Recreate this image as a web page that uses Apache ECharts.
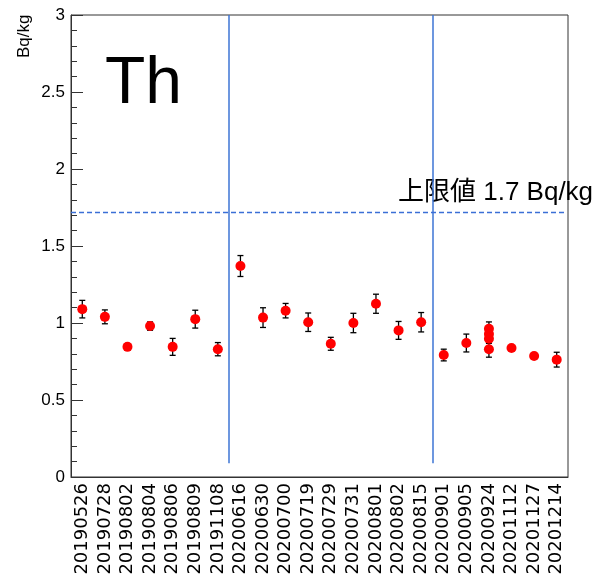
<!DOCTYPE html>
<html>
<head>
<meta charset="utf-8">
<script src="https://cdn.jsdelivr.net/npm/echarts@6/dist/echarts.min.js"></script>
<style>html,body{margin:0;padding:0;background:#fff;}#c{width:595px;height:580px;}</style>
</head>
<body>
<div id="c"></div>
<script>
var categories = ['20190526','20190728','20190802','20190804','20190806','20190809','20191108','20200616','20200630','20200700','20200719','20200729','20200731','20200801','20200802','20200815','20200901','20200905','20200924','20201112','20201127','20201214'];
// each measurement: category index, value (Bq/kg), error
var pointCat = [0,1,2,3,4,5,6,7,8,9,10,11,12,13,14,15,16,17,18,18,18,18,19,20,21];
var pointVal = [1.09,1.04,0.845,0.98,0.845,1.025,0.83,1.37,1.035,1.08,1.005,0.865,1.0,1.125,0.952,1.005,0.792,0.87,0.962,0.928,0.898,0.83,0.838,0.786,0.762];
var pointErr = [0.057,0.045,0.02,0.027,0.055,0.058,0.043,0.068,0.064,0.047,0.06,0.042,0.063,0.062,0.058,0.063,0.038,0.058,0.045,0.03,0.03,0.052,0.012,0.012,0.048];
var limitValue = 1.7175;
var limitLabel = '上限値 1.7 Bq/kg';
var periodBoundaries = [7, 16];

var pts = pointCat.map(function(c, i){ return [c, pointVal[i], pointErr[i]]; });

var chart = echarts.init(document.getElementById('c'), null, {renderer:'canvas'});
var axisColor = '#333';
var option = {
  animation: false,
  backgroundColor: '#fff',
  grid: {left: 71, right: 27, top: 15, bottom: 103, show: true, borderColor: axisColor, borderWidth: 1, backgroundColor: 'transparent'},
  xAxis: [{
    type: 'category', data: categories, boundaryGap: true,
    axisLine: {lineStyle: {color: axisColor, width: 1}},
    axisTick: {inside: true, length: 16, lineStyle: {color: axisColor, width: 1}},
    axisLabel: {rotate: 90, margin: 6, color: '#000', fontFamily: 'DejaVu Sans', fontSize: 18, interval: 0},
    splitLine: {show: false}
  }, {
    type: 'value', min: 0, max: categories.length, show: false, position: 'bottom'
  }],
  yAxis: {
    type: 'value', min: 0, max: 3, interval: 0.5,
    axisLine: {show: true, lineStyle: {color: axisColor, width: 1}},
    axisTick: {inside: true, length: 12, lineStyle: {color: axisColor}},
    minorTick: {show: true, splitNumber: 5, length: 6, lineStyle: {color: axisColor}},
    axisLabel: {margin: 6, color: '#000', fontFamily: 'Liberation Sans', fontSize: 17,
      formatter: function(v){ return String(Math.round(v*10)/10); }},
    splitLine: {show: false}
  },
  series: [{
    type: 'line', xAxisIndex: 1, data: [], silent: true,
    markLine: {
      symbol: 'none', silent: true, label: {show: false},
      lineStyle: {color: '#3d74d4', width: 1.5, type: 'solid'},
      data: periodBoundaries.map(function(b){
        return [{coord: [b, 0.09]}, {coord: [b, 3]}];
      })
    }
  }, {
    type: 'line', xAxisIndex: 1, data: [], silent: true,
    markLine: {
      symbol: 'none', silent: true, label: {show: false},
      lineStyle: {color: '#3b6fd6', width: 1.3, type: [5, 3], opacity: 1},
      data: [[{coord: [0, limitValue]}, {coord: [21.85, limitValue]}]]
    }
  }, {
    type: 'custom', xAxisIndex: 0, data: pts, z: 3,
    renderItem: function(params, api){
      var c = api.value(0), v = api.value(1), e = api.value(2);
      var top = api.coord([c, v + e]);
      var bot = api.coord([c, v - e]);
      var x = top[0], hw = 3;
      var st = {stroke: '#000', lineWidth: 1.3};
      return {type: 'group', children: [
        {type: 'line', shape: {x1: x, y1: top[1], x2: x, y2: bot[1]}, style: st},
        {type: 'line', shape: {x1: x-hw, y1: top[1], x2: x+hw, y2: top[1]}, style: st},
        {type: 'line', shape: {x1: x-hw, y1: bot[1], x2: x+hw, y2: bot[1]}, style: st}
      ]};
    }
  }, {
    type: 'scatter', xAxisIndex: 0, data: pts.map(function(p){ return [p[0], p[1]]; }),
    symbol: 'circle', symbolSize: 10, z: 4,
    itemStyle: {color: '#ff0000', opacity: 1}
  }],
  graphic: [
    {type: 'text', left: 105, top: 52, style: {text: 'Th', fontFamily: 'Liberation Sans', fontSize: 66, fill: '#000'}},
    {type: 'text', x: 16, y: 58, rotation: Math.PI/2, style: {text: 'Bq/kg', fontFamily: 'Liberation Sans', fontSize: 17, fill: '#000', textAlign: 'left', textVerticalAlign: 'top'}},
    {type: 'text', x: 398, y: 206, style: {text: limitLabel, fontFamily: 'Liberation Sans, Noto Sans CJK JP', fontSize: 26, fill: '#000', textVerticalAlign: 'bottom'}}
  ]
};
chart.setOption(option);
</script>
</body>
</html>
